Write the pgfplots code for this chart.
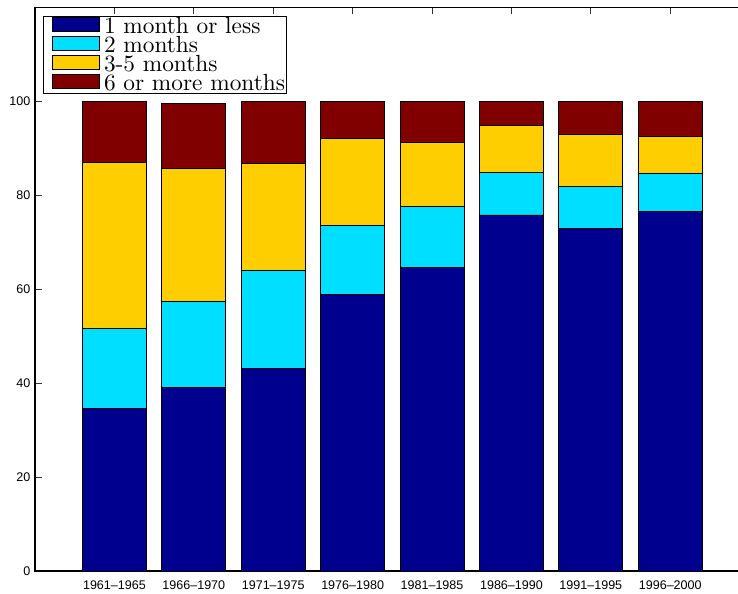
\documentclass[border=0pt]{standalone}
\usepackage{fontspec}
\setsansfont{Liberation Sans}
\newfontfamily\legfont{lmroman10-regular.otf}
\usepackage{pgfplots}
\pgfplotsset{compat=1.18}

\definecolor{durA}{RGB}{0,0,143}
\definecolor{durB}{RGB}{0,223,255}
\definecolor{durC}{RGB}{255,206,0}
\definecolor{durD}{RGB}{128,0,0}

% share of spells by duration, per five-year period
\pgfplotstableread{
x  one   two   three six
1  34.7  17.0  35.3  13.0
2  39.1  18.3  28.3  13.9
3  43.1  20.8  22.9  13.2
4  58.9  14.7  18.5  7.8
5  64.7  13.0  13.5  8.7
6  75.8  9.0   10.0  5.2
7  73.0  8.9   11.0  7.1
8  76.6  8.1   7.9   7.3
}\spells

\pgfplotsset{
  swatch/.style={
    legend image code/.code={
      \path (0pt,1.3pt);
      \draw[##1, line width=0.6pt] (5.5pt,1.3pt) rectangle (40.75pt,11.8pt);
    }
  },
  seg/.style={fill=#1, draw=black, line width=0.6pt, swatch},
}

\begin{document}
\begin{tikzpicture}
\begin{axis}[
  scale only axis,
  width=536pt, height=422.8pt,
  xmin=0, xmax=9, ymin=0, ymax=120,
  ybar stacked, bar width=48pt,
  xtick={1,...,8},
  xticklabels={1961--1965,1966--1970,1971--1975,1976--1980,1981--1985,1986--1990,1991--1995,1996--2000},
  ytick={0,20,...,100},
  tick align=inside,
  major tick length=5.25pt,
  tick style={black!80, line width=0.6pt},
  axis line style={line width=1pt},
  ticklabel style={font=\sffamily\fontsize{9.4}{11}\selectfont},
  /pgf/number format/assume math mode=true,
  xticklabel style={yshift=-3.6pt},
  legend style={
    at={(0,1)}, anchor=north west, xshift=5.8pt, yshift=-6.6pt,
    draw=black, line width=0.8pt,
    inner xsep=1.2pt, inner ysep=0.3pt,
    font=\legfont\fontsize{17.5}{14.25}\selectfont,
    nodes={inner sep=0pt, text height=12.3pt, text depth=1.95pt},
    cells={anchor=base west},
    column sep=3pt, row sep=0pt,
  },
]
\addplot[seg=durA] table[x=x, y=one] {\spells};
\addplot[seg=durB] table[x=x, y=two] {\spells};
\addplot[seg=durC] table[x=x, y=three] {\spells};
\addplot[seg=durD] table[x=x, y=six] {\spells};
\legend{1 month or less, 2 months, 3-5 months, 6 or more months}
\end{axis}
\pgfresetboundingbox
\path (-26.25pt,-16.5pt) rectangle (527.25pt,428.3pt);
\end{tikzpicture}
\end{document}
